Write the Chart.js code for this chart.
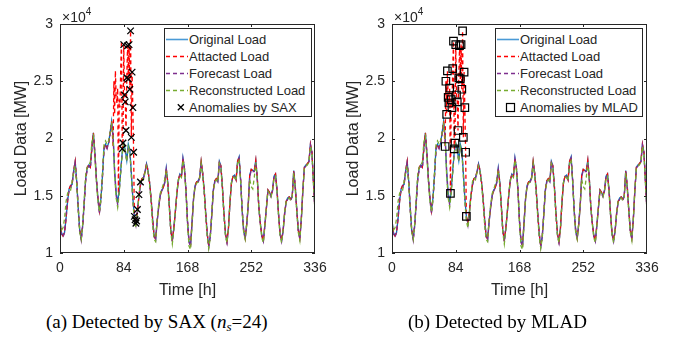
<!DOCTYPE html>
<html>
<head>
<meta charset="utf-8">
<script src="https://cdn.jsdelivr.net/npm/chart.js@4.4.1/dist/chart.umd.min.js"></script>
<style>
  body { margin: 0; background: #fff; }
  #page { position: relative; width: 681px; height: 341px; overflow: hidden; font-family: "Liberation Sans", Arial, sans-serif; color: #262626; }
  .panel { position: absolute; top: 0; width: 340px; height: 300px; }
  .exp { position: absolute; top: 5px; font-size: 14px; line-height: 16px; }
  .exp sup { font-size: 10px; position: relative; top: -1px; }
  .legend { position: absolute; top: 28px; width: 146px; height: 87px; border: 1px solid #262626; background: #fff; font-size: 13px; }
  .row { position: absolute; left: 0; height: 17px; line-height: 17px; white-space: nowrap; }
  .row svg { position: absolute; left: 1px; top: 0; }
  .row span { position: absolute; left: 24px; top: 0; }
  .caption { position: absolute; top: 311px; font-family: "Liberation Serif", "Times New Roman", serif; font-size: 19px; line-height: 22px; color: #000; white-space: nowrap; }
  .caption sub { font-size: 13px; vertical-align: -3px; line-height: 0; }
</style>
</head>
<body>
<div id="page">
  <canvas id="chartA" class="panel" width="340" height="300" style="left:0px"></canvas>
  <canvas id="chartB" class="panel" width="340" height="300" style="left:332px"></canvas>
  <div class="exp" style="left:62px">&times;10<sup>4</sup></div>
  <div class="exp" style="left:394px">&times;10<sup>4</sup></div>
  <div class="legend" id="legendA" style="left:164px"></div>
  <div class="legend" id="legendB" style="left:495px"></div>
  <div class="caption" style="left:46px">(a) Detected by SAX (<i>n</i><sub><i>s</i></sub>=24)</div>
  <div class="caption" style="left:408px">(b) Detected by MLAD</div>
</div>
<script>
// Valores en unidades de 10^4 MW, una muestra cada 2 horas (h = 0, 2, ..., 336)
var hourStep = 2;

var original = [
  1.28, 1.18, 1.15, 1.18, 1.30, 1.45, 1.56, 1.59, 1.60, 1.72, 1.80, 1.63,
  1.40, 1.20, 1.13, 1.25, 1.45, 1.66, 1.75, 1.77, 1.75, 1.92, 2.05, 1.87,
  1.65, 1.48, 1.37, 1.48, 1.68, 1.92, 1.95, 1.92, 1.96, 2.05, 2.15, 2.02,
  1.72, 1.53, 1.44, 1.55, 1.72, 1.88, 1.96, 1.90, 1.81, 1.95, 1.90, 1.70,
  1.48, 1.32, 1.26, 1.36, 1.50, 1.60, 1.65, 1.66, 1.71, 1.78, 1.72, 1.62,
  1.48, 1.30, 1.15, 1.12, 1.28, 1.40, 1.50, 1.55, 1.57, 1.62, 1.74, 1.62,
  1.42, 1.20, 1.11, 1.22, 1.36, 1.52, 1.64, 1.69, 1.67, 1.83, 1.74, 1.55,
  1.28, 1.10, 1.07, 1.27, 1.48, 1.59, 1.62, 1.63, 1.66, 1.80, 1.70, 1.55,
  1.35, 1.17, 1.06, 1.15, 1.34, 1.55, 1.63, 1.65, 1.63, 1.80, 1.76, 1.58,
  1.35, 1.17, 1.10, 1.22, 1.45, 1.62, 1.67, 1.68, 1.64, 1.80, 1.84, 1.64,
  1.38, 1.20, 1.13, 1.25, 1.42, 1.68, 1.73, 1.72, 1.72, 1.81, 1.65, 1.40,
  1.26, 1.15, 1.11, 1.25, 1.40, 1.55, 1.53, 1.50, 1.55, 1.67, 1.69, 1.55,
  1.34, 1.17, 1.11, 1.20, 1.35, 1.45, 1.48, 1.49, 1.47, 1.50, 1.72, 1.58,
  1.38, 1.20, 1.13, 1.30, 1.55, 1.75, 1.77, 1.78, 1.80, 1.95, 1.88, 1.62,
  1.37
];

var forecast = [
  1.25, 1.16, 1.14, 1.18, 1.33, 1.50, 1.54, 1.56, 1.62, 1.70, 1.78, 1.62,
  1.38, 1.18, 1.11, 1.24, 1.44, 1.65, 1.73, 1.76, 1.74, 1.91, 2.03, 1.86,
  1.63, 1.46, 1.34, 1.47, 1.67, 1.90, 1.94, 1.91, 1.96, 2.04, 2.13, 2.01,
  1.70, 1.50, 1.42, 1.54, 1.71, 1.87, 1.95, 1.89, 1.80, 1.93, 1.89, 1.69,
  1.47, 1.30, 1.24, 1.35, 1.49, 1.59, 1.64, 1.65, 1.70, 1.77, 1.71, 1.61,
  1.47, 1.29, 1.14, 1.11, 1.27, 1.40, 1.50, 1.54, 1.57, 1.61, 1.73, 1.61,
  1.41, 1.19, 1.10, 1.21, 1.36, 1.52, 1.63, 1.68, 1.66, 1.82, 1.73, 1.54,
  1.27, 1.09, 1.06, 1.26, 1.47, 1.58, 1.61, 1.62, 1.65, 1.79, 1.69, 1.54,
  1.34, 1.16, 1.05, 1.14, 1.33, 1.54, 1.62, 1.64, 1.62, 1.79, 1.75, 1.57,
  1.34, 1.16, 1.09, 1.21, 1.44, 1.61, 1.66, 1.67, 1.63, 1.79, 1.83, 1.63,
  1.37, 1.19, 1.12, 1.24, 1.41, 1.67, 1.72, 1.71, 1.71, 1.80, 1.64, 1.39,
  1.25, 1.14, 1.10, 1.24, 1.39, 1.54, 1.52, 1.49, 1.54, 1.66, 1.68, 1.54,
  1.33, 1.16, 1.10, 1.19, 1.34, 1.44, 1.47, 1.48, 1.46, 1.49, 1.71, 1.57,
  1.37, 1.19, 1.12, 1.29, 1.54, 1.74, 1.76, 1.77, 1.79, 1.94, 1.87, 1.61,
  1.36
];

var reconstructed = [
  1.26, 1.20, 1.22, 1.30, 1.45, 1.52, 1.55, 1.55, 1.63, 1.70, 1.76, 1.60,
  1.38, 1.18, 1.12, 1.26, 1.48, 1.70, 1.75, 1.76, 1.80, 1.97, 2.02, 1.84,
  1.62, 1.45, 1.36, 1.47, 1.70, 1.95, 1.98, 1.95, 1.98, 2.05, 2.12, 2.00,
  1.68, 1.48, 1.40, 1.52, 1.70, 1.87, 1.95, 1.89, 1.80, 1.93, 1.88, 1.68,
  1.45, 1.28, 1.22, 1.34, 1.50, 1.62, 1.66, 1.64, 1.70, 1.76, 1.71, 1.60,
  1.45, 1.25, 1.12, 1.10, 1.30, 1.42, 1.52, 1.55, 1.60, 1.64, 1.72, 1.60,
  1.40, 1.18, 1.08, 1.20, 1.37, 1.53, 1.64, 1.68, 1.66, 1.81, 1.72, 1.53,
  1.25, 1.06, 1.03, 1.24, 1.47, 1.58, 1.61, 1.62, 1.65, 1.78, 1.68, 1.53,
  1.32, 1.14, 1.04, 1.13, 1.33, 1.54, 1.62, 1.64, 1.62, 1.78, 1.74, 1.56,
  1.33, 1.15, 1.09, 1.22, 1.45, 1.62, 1.66, 1.66, 1.63, 1.78, 1.82, 1.62,
  1.36, 1.18, 1.12, 1.25, 1.42, 1.64, 1.58, 1.56, 1.66, 1.79, 1.64, 1.39,
  1.25, 1.13, 1.09, 1.24, 1.40, 1.54, 1.52, 1.49, 1.54, 1.65, 1.67, 1.53,
  1.32, 1.15, 1.09, 1.20, 1.35, 1.45, 1.47, 1.48, 1.46, 1.49, 1.70, 1.56,
  1.36, 1.18, 1.11, 1.29, 1.55, 1.74, 1.76, 1.77, 1.79, 1.93, 1.86, 1.60,
  1.36
];

// Ventana del ataque (datos horarios)
var attackHours = [70, 71, 72, 73, 74, 75, 76, 77, 78, 79, 80, 81, 82, 83, 84,
                   85, 86, 87, 88, 89, 90, 91, 92, 93, 94, 95, 96, 97, 98];
var attackValues = [1.93, 2.50, 2.21, 2.59, 2.36, 2.31, 2.44, 1.52, 2.34, 2.27, 2.61, 2.85, 1.91, 1.96, 2.82,
                    2.38, 2.32, 2.07, 2.53, 2.81, 2.52, 2.82, 2.43, 2.94, 2.01, 2.58, 2.27, 1.88, 1.32];

// Anomalías detectadas
var saxHours = [82, 83, 84, 85, 86, 87, 88, 89, 90, 91, 92, 93, 94, 95, 96, 97, 98, 99, 100, 101, 102, 104, 106];
var saxValues = [1.91, 1.96, 2.82, 2.38, 2.32, 2.07, 2.53, 2.81, 2.52, 2.82, 2.43, 2.94, 2.01, 2.58, 2.27, 1.88,
                 1.32, 1.29, 1.26, 1.28, 1.38, 1.51, 1.62];
var mladHours = [70, 71, 72, 73, 74, 75, 76, 77, 78, 79, 80, 81, 82, 83, 84,
                 85, 86, 87, 88, 89, 90, 91, 92, 93, 94, 95, 96, 97, 98];
var mladValues = [1.93, 2.50, 2.21, 2.59, 2.36, 2.31, 2.44, 1.52, 2.34, 2.27, 2.61, 2.85, 1.91, 1.96, 2.82,
                  2.38, 2.32, 2.07, 2.53, 2.81, 2.52, 2.82, 2.43, 2.94, 2.01, 2.58, 2.27, 1.88, 1.32];

var xTicks = [0, 84, 168, 252, 336];
var yTicks = [1, 1.5, 2, 2.5, 3];

var axisColor = '#262626';

function toPoints(values) {
  return values.map(function (v, i) { return { x: i * hourStep, y: v }; });
}

function pairPoints(hs, vs) {
  return hs.map(function (h, i) { return { x: h, y: vs[i] }; });
}

// Serie atacada: original fuera de la ventana + valores del ataque
function attackedPoints() {
  var first = attackHours[0], last = attackHours[attackHours.length - 1];
  var pts = toPoints(original).filter(function (p) { return p.x < first || p.x > last; });
  pts = pts.concat(pairPoints(attackHours, attackValues));
  pts.sort(function (a, b) { return a.x - b.x; });
  return pts;
}

// Caja y marcas hacia dentro, estilo MATLAB
var framePlugin = {
  id: 'frame',
  afterDatasetsDraw: function (chart) {
    var ctx = chart.ctx, a = chart.chartArea, sx = chart.scales.x, sy = chart.scales.y;
    ctx.save();
    ctx.strokeStyle = axisColor;
    ctx.lineWidth = 1;
    ctx.strokeRect(a.left + 0.5, a.top + 0.5, a.right - a.left - 1, a.bottom - a.top - 1);
    ctx.beginPath();
    xTicks.forEach(function (v) {
      var px = Math.round(sx.getPixelForValue(v)) + 0.5;
      if (v === xTicks[0]) px = a.left + 0.5;
      if (v === xTicks[xTicks.length - 1]) px = a.right - 0.5;
      ctx.moveTo(px, a.bottom); ctx.lineTo(px, a.bottom - 3);
      ctx.moveTo(px, a.top); ctx.lineTo(px, a.top + 3);
    });
    yTicks.forEach(function (v) {
      var py = Math.round(sy.getPixelForValue(v)) + 0.5;
      ctx.moveTo(a.left, py); ctx.lineTo(a.left + 3, py);
      ctx.moveTo(a.right, py); ctx.lineTo(a.right - 3, py);
    });
    ctx.stroke();
    ctx.restore();
  }
};

function lineSet(label, data, color, dash, order) {
  return {
    label: label, data: data, borderColor: color, borderWidth: 1.3,
    borderDash: dash, pointRadius: 0, fill: false, tension: 0, order: order
  };
}

function makeChart(id, markers) {
  var ctx = document.getElementById(id).getContext('2d');
  return new Chart(ctx, {
    type: 'line',
    data: {
      datasets: [
        lineSet('Original Load', toPoints(original), '#0072BD', [], 4),
        lineSet('Attacted Load', attackedPoints(), '#FF0000', [4, 3], 3),
        lineSet('Forecast Load', toPoints(forecast), '#7E2F8E', [4, 3], 2),
        lineSet('Reconstructed Load', toPoints(reconstructed), '#77AC30', [4, 3], 1),
        markers
      ]
    },
    options: {
      responsive: false,
      animation: false,
      layout: { padding: { top: 24, right: 25, left: 0, bottom: 0 } },
      plugins: { legend: { display: false }, tooltip: { enabled: false } },
      scales: {
        x: {
          type: 'linear', min: 0, max: 336,
          afterBuildTicks: function (s) { s.ticks = xTicks.map(function (v) { return { value: v }; }); },
          afterFit: function (s) { s.height = 47; },
          grid: { display: false, drawTicks: false },
          border: { display: false },
          ticks: { padding: 7, maxRotation: 0, color: axisColor, font: { size: 14 },
                   callback: function (v) { return String(v); } },
          title: { display: true, text: 'Time [h]', color: axisColor, font: { size: 16 }, padding: { top: 0, bottom: 0 } }
        },
        y: {
          type: 'linear', min: 1, max: 3,
          afterBuildTicks: function (s) { s.ticks = yTicks.map(function (v) { return { value: v }; }); },
          afterFit: function (s) { s.width = 60; },
          grid: { display: false, drawTicks: false },
          border: { display: false },
          ticks: { padding: 7, color: axisColor, font: { size: 14 },
                   callback: function (v) { return String(Math.round(v * 10) / 10); } },
          title: { display: true, text: 'Load Data [MW]', color: axisColor, font: { size: 16 }, padding: { top: 12, bottom: 0 } }
        }
      }
    },
    plugins: [framePlugin]
  });
}

Chart.defaults.font.family = '"Liberation Sans", Arial, sans-serif';

makeChart('chartA', {
  label: 'Anomalies by SAX', data: pairPoints(saxHours, saxValues), showLine: false,
  pointStyle: 'crossRot', pointRadius: 4.6, borderColor: '#000', borderWidth: 1.3,
  backgroundColor: '#000', order: 0
});
makeChart('chartB', {
  label: 'Anomalies by MLAD', data: pairPoints(mladHours, mladValues), showLine: false,
  pointStyle: 'rect', pointRadius: 5.3, borderColor: '#000', borderWidth: 1.2,
  backgroundColor: 'rgba(0,0,0,0)', order: 0
});

// Leyendas en HTML
function lineIcon(color, dash) {
  return '<svg width="22" height="17"><line x1="0" y1="8.5" x2="22" y2="8.5" stroke="' + color +
    '" stroke-width="1.6"' + (dash ? ' stroke-dasharray="4 3"' : '') + '/></svg>';
}
function buildLegend(id, lastLabel, lastIcon) {
  var items = [
    [lineIcon('#4a9ad6', false), 'Original Load'],
    [lineIcon('#FF0000', true), 'Attacted Load'],
    [lineIcon('#7E2F8E', true), 'Forecast Load'],
    [lineIcon('#77AC30', true), 'Reconstructed Load'],
    [lastIcon, lastLabel]
  ];
  var html = '';
  items.forEach(function (it, i) {
    html += '<div class="row" style="top:' + (2 + i * 17) + 'px">' + it[0] + '<span>' + it[1] + '</span></div>';
  });
  document.getElementById(id).innerHTML = html;
}
buildLegend('legendA', 'Anomalies by SAX',
  '<svg width="22" height="17"><path d="M11.8 5.3 L17.8 11.3 M17.8 5.3 L11.8 11.3" stroke="#000" stroke-width="1.3"/></svg>');
buildLegend('legendB', 'Anomalies by MLAD',
  '<svg width="22" height="17"><rect x="9.5" y="4.5" width="8" height="8" fill="none" stroke="#000" stroke-width="1.2"/></svg>');
</script>
</body>
</html>
